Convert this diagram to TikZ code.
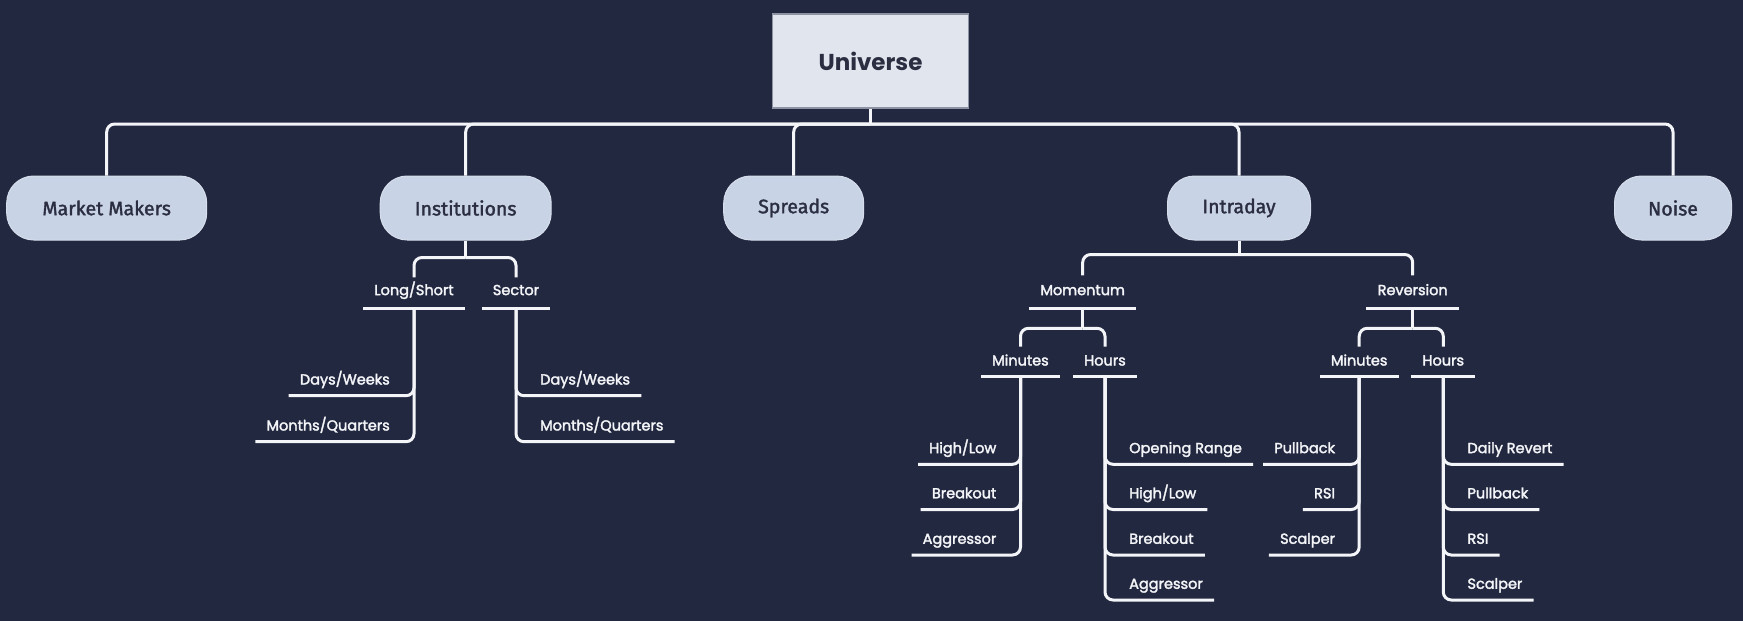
\documentclass[tikz,border=0pt]{standalone}
\usepackage{fontspec}
\setmainfont{Fira Sans}
\newfontfamily\catfont[FakeBold=1.6]{Fira Sans}
\newfontfamily\labfont[FakeBold=2.2]{Poppins}
\newfontfamily\rootfont{Poppins}
\usetikzlibrary{calc}
\definecolor{bg}{HTML}{222840}
\definecolor{rootfill}{HTML}{E1E5EE}
\definecolor{rootedge}{HTML}{8E93A3}
\definecolor{catfill}{HTML}{C8D3E5}
\definecolor{catedge}{HTML}{D6DEEC}
\definecolor{ink}{HTML}{2A2E40}
\definecolor{labtext}{HTML}{F4F5F8}
\definecolor{wirecol}{HTML}{F4F5F8}
\begin{document}
\begin{tikzpicture}[x=1pt,y=-1pt,
  root/.style={draw=rootedge, line width=1.2pt, fill=rootfill, minimum width=196pt, minimum height=94pt, inner sep=0pt, text=ink, font=\rootfont\bfseries\fontsize{23}{23}\selectfont},
  cat/.style={draw=catedge, line width=1pt, fill=catfill, rounded corners=27pt, minimum height=64pt, inner sep=0pt, text=ink, font=\catfont\fontsize{19.5}{19.5}\selectfont},
  lab/.style={text=labtext, font=\labfont\fontsize{14.5}{14.5}\selectfont, inner xsep=11pt, inner ysep=0pt, text height=11pt, text depth=11pt},
  hlab/.style={lab, text depth=13pt},
  wire/.style={draw=wirecol, line width=3pt, rounded corners=8pt},
  uline/.style={draw=wirecol, line width=3pt, sharp corners}
]
\fill[bg] (0,0) rectangle (1743,621);

% root and first level
\node[root] (u) at (870.5,61) {Universe};
\node[cat, minimum width=200pt] (mm) at (106.7,208) {Market Makers};
\node[cat, minimum width=171pt] (inst) at (465.7,208) {Institutions};
\node[cat, minimum width=140pt] (spr) at (793.7,208) {Spreads};
\node[cat, minimum width=143pt] (intra) at (1239,208) {Intraday};
\node[cat, minimum width=117pt] (noise) at (1673,208) {Noise};

\coordinate (bus) at (870.5,124);
\draw[uline] (u.south) -- (bus);
\foreach \c in {mm,inst,spr,intra,noise}{\draw[wire] (bus) -| (\c.north);}

% Institutions subtree
\node[hlab, anchor=south] (ls) at (414,308.3) {Long/Short};
\node[hlab, anchor=south] (sec) at (516,308.3) {Sector};
\coordinate (ifk) at ([yshift=-17pt]inst.south);
\draw[uline] (inst.south) -- (ifk);
\draw[wire] (ifk) -| ([yshift=31pt]ls.south);
\draw[wire] (ifk) -| ([yshift=31pt]sec.south);
\draw[uline] (ls.south west) -- (ls.south east);
\draw[uline] (sec.south west) -- (sec.south east);

\node[lab, anchor=south east] (lsa) at (401,395.7) {Days/Weeks};
\node[lab, anchor=south east] (lsb) at (401,441.7) {Months/Quarters};
\draw[wire] (ls.south) |- (lsa.south west);
\draw[wire] (ls.south) |- (lsb.south west);
\node[lab, anchor=south west] (seca) at (529,395.7) {Days/Weeks};
\node[lab, anchor=south west] (secb) at (529,441.7) {Months/Quarters};
\draw[wire] (sec.south) |- (seca.south east);
\draw[wire] (sec.south) |- (secb.south east);

% Intraday subtree
\node[hlab, anchor=south] (mom) at (1082.7,308.3) {Momentum};
\node[hlab, anchor=south] (rev) at (1412.7,308.3) {Reversion};
\coordinate (tfk) at ([yshift=-14pt]intra.south);
\draw[uline] (intra.south) -- (tfk);
\draw[wire] (tfk) -| ([yshift=33pt]mom.south);
\draw[wire] (tfk) -| ([yshift=33pt]rev.south);
\draw[uline] (mom.south west) -- (mom.south east);
\draw[uline] (rev.south west) -- (rev.south east);

\node[lab, anchor=south] (mmin) at (1020.5,376.7) {Minutes};
\node[lab, anchor=south] (mhr) at (1105,376.7) {Hours};
\coordinate (mfk) at ([yshift=-20pt]mom.south);
\draw[uline] (mom.south) -- (mfk);
\draw[wire] (mfk) -| ([yshift=30pt]mmin.south);
\draw[wire] (mfk) -| ([yshift=30pt]mhr.south);
\draw[uline] (mmin.south west) -- (mmin.south east);
\draw[uline] (mhr.south west) -- (mhr.south east);

\node[lab, anchor=south] (rmin) at (1359.2,376.7) {Minutes};
\node[lab, anchor=south] (rhr) at (1443.3,376.7) {Hours};
\coordinate (rfk) at ([yshift=-20pt]rev.south);
\draw[uline] (rev.south) -- (rfk);
\draw[wire] (rfk) -| ([yshift=30pt]rmin.south);
\draw[wire] (rfk) -| ([yshift=30pt]rhr.south);
\draw[uline] (rmin.south west) -- (rmin.south east);
\draw[uline] (rhr.south west) -- (rhr.south east);

% Momentum / Minutes leaves
\node[lab, anchor=south east] (mm1) at (1007.5,464.3) {High/Low};
\node[lab, anchor=south east] (mm2) at (1007.5,509.5) {Breakout};
\node[lab, anchor=south east] (mm3) at (1007.5,555) {Aggressor};
\foreach \l in {mm1,mm2,mm3}{\draw[wire] (mmin.south) |- (\l.south west);}

% Momentum / Hours leaves
\node[lab, anchor=south west] (mh1) at (1118,464.3) {Opening Range};
\node[lab, anchor=south west] (mh2) at (1118,509.5) {High/Low};
\node[lab, anchor=south west] (mh3) at (1118,555) {Breakout};
\node[lab, anchor=south west] (mh4) at (1118,600) {Aggressor};
\foreach \l in {mh1,mh2,mh3,mh4}{\draw[wire] (mhr.south) |- (\l.south east);}

% Reversion / Minutes leaves
\node[lab, anchor=south east] (rm1) at (1346.2,464.3) {Pullback};
\node[lab, anchor=south east] (rm2) at (1346.2,509.5) {RSI};
\node[lab, anchor=south east] (rm3) at (1346.2,555) {Scalper};
\foreach \l in {rm1,rm2,rm3}{\draw[wire] (rmin.south) |- (\l.south west);}

% Reversion / Hours leaves
\node[lab, anchor=south west] (rh1) at (1456.3,464.3) {Daily Revert};
\node[lab, anchor=south west] (rh2) at (1456.3,509.5) {Pullback};
\node[lab, anchor=south west] (rh3) at (1456.3,555) {RSI};
\node[lab, anchor=south west] (rh4) at (1456.3,600) {Scalper};
\foreach \l in {rh1,rh2,rh3,rh4}{\draw[wire] (rhr.south) |- (\l.south east);}
\end{tikzpicture}
\end{document}
